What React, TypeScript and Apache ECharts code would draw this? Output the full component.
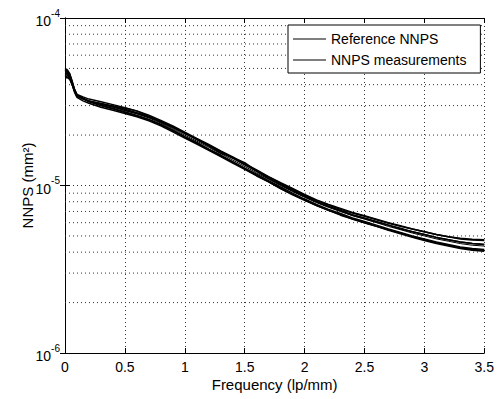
import React, { useEffect, useRef } from "react";
import * as echarts from "echarts";

// Frequency samples (lp/mm)
const freq = [0, 0.02, 0.04, 0.06, 0.08, 0.1, 0.15, 0.2, 0.3, 0.4, 0.5, 0.6, 0.7, 0.8, 0.9, 1.0, 1.1, 1.2, 1.3, 1.4, 1.5, 1.6, 1.7, 1.8, 1.9, 2.0, 2.1, 2.2, 2.3, 2.4, 2.5, 2.6, 2.7, 2.8, 2.9, 3.0, 3.1, 3.2, 3.3, 3.4, 3.5];

// NNPS values in units of 1e-6 mm^2
const refNNPS = [48, 47, 45, 41, 37, 34.5, 33, 32, 30.5, 29.3, 28.0, 26.8, 25.3, 23.6, 21.8, 20.0, 18.4, 16.9, 15.5, 14.2, 13.0, 11.9, 10.9, 10.0, 9.2, 8.5, 7.9, 7.4, 7.0, 6.6, 6.3, 6.0, 5.7, 5.45, 5.2, 5.0, 4.8, 4.65, 4.5, 4.4, 4.35];
const meas1 = [49, 48, 46, 42, 37.5, 35, 33.8, 32.8, 31.6, 30.4, 29.1, 27.9, 26.3, 24.5, 22.7, 20.8, 19.1, 17.6, 16.1, 14.8, 13.5, 12.4, 11.3, 10.4, 9.6, 8.85, 8.2, 7.7, 7.3, 6.9, 6.6, 6.3, 6.0, 5.75, 5.5, 5.3, 5.1, 4.95, 4.85, 4.78, 4.75];
const meas2 = [47, 46.5, 44.5, 40, 36, 33.6, 32, 31, 29.3, 28.1, 26.9, 25.7, 24.3, 22.7, 20.9, 19.2, 17.7, 16.2, 14.9, 13.6, 12.5, 11.4, 10.5, 9.6, 8.8, 8.15, 7.6, 7.1, 6.7, 6.3, 6.0, 5.7, 5.45, 5.2, 4.95, 4.75, 4.55, 4.4, 4.25, 4.15, 4.1];
const meas3 = [44, 44, 43, 40, 36.5, 34.5, 33, 32, 30.8, 29.6, 29.0, 27.8, 25.9, 23.9, 22.2, 20.5, 18.9, 17.4, 15.9, 14.6, 13.4, 12.2, 11.2, 10.3, 9.4, 8.7, 8.0, 7.5, 7.1, 6.7, 6.4, 6.1, 5.8, 5.5, 5.3, 5.1, 4.9, 4.75, 4.6, 4.5, 4.45];
const meas4 = [50, 49, 46.5, 41.5, 37, 34.8, 33.2, 31.8, 30.0, 28.8, 27.5, 26.2, 24.8, 23.2, 21.4, 19.6, 18.0, 16.5, 15.2, 13.9, 12.7, 11.7, 10.7, 9.8, 9.0, 8.3, 7.7, 7.2, 6.8, 6.4, 6.1, 5.8, 5.5, 5.25, 5.0, 4.8, 4.6, 4.45, 4.3, 4.2, 4.15];
const meas5 = [46, 45.5, 44, 40.5, 36.5, 34.2, 33, 31.9, 30.7, 29.6, 28.1, 26.9, 25.5, 24.1, 22.4, 20.6, 18.8, 17.2, 15.6, 14.7, 13.7, 12.2, 11.0, 10.1, 9.3, 8.6, 8.0, 7.5, 7.05, 6.65, 6.35, 6.05, 5.8, 5.55, 5.3, 5.1, 4.9, 4.75, 4.6, 4.5, 4.45];
const meas6 = [48, 47.5, 45.5, 41, 37.2, 34.6, 33.1, 31.6, 30.0, 28.7, 27.4, 26.1, 24.7, 23.0, 21.3, 19.5, 18.0, 16.4, 15.0, 13.8, 12.6, 11.5, 10.5, 9.6, 8.85, 8.2, 7.6, 7.1, 6.65, 6.3, 6.0, 5.7, 5.4, 5.15, 4.9, 4.7, 4.5, 4.35, 4.2, 4.1, 4.05];
const meas7 = [45, 44.5, 43.5, 40, 36.8, 34.3, 32.8, 31.9, 30.9, 29.8, 28.5, 27.2, 25.8, 24.1, 22.3, 20.5, 18.9, 17.3, 15.9, 14.6, 13.3, 12.2, 11.2, 10.3, 9.5, 8.75, 8.15, 7.65, 7.2, 6.85, 6.55, 6.25, 5.95, 5.7, 5.5, 5.3, 5.1, 4.95, 4.8, 4.72, 4.7];
const measurements = [meas1, meas2, meas3, meas4, meas5, meas6, meas7];

const UNIT = 1e-6;
const xTicks = [0, 0.5, 1, 1.5, 2, 2.5, 3, 3.5];
const minorGridValues = [2e-6, 3e-6, 4e-6, 5e-6, 6e-6, 7e-6, 8e-6, 9e-6, 2e-5, 3e-5, 4e-5, 5e-5, 6e-5, 7e-5, 8e-5, 9e-5];
const xRange = [0, 3.5];

const FONT = "'Liberation Sans', Arial, sans-serif";

export default function App() {
  const ref = useRef<HTMLDivElement>(null);
  useEffect(() => {
    if (!ref.current) return;
    const chart = echarts.init(ref.current, undefined, { renderer: "svg" });
    const toPairs = (arr: number[]) => arr.map((v, i) => [freq[i], v * UNIT]);
    const dotted = { color: "#333", width: 1, type: [1, 3] as any };
    const lineSeries = (name: string, arr: number[], extra: any = {}) => ({
      type: "line",
      name,
      data: toPairs(arr),
      symbol: "none",
      showSymbol: false,
      lineStyle: { color: "#000", width: 1.5 },
      itemStyle: { color: "#000" },
      silent: true,
      z: 3,
      ...extra,
    });
    const gridSeries = minorGridValues.map((v) => ({
      type: "line",
      name: "minor-grid",
      data: xRange.map((x) => [x, v]),
      symbol: "none",
      showSymbol: false,
      silent: true,
      z: 1,
      lineStyle: dotted,
      itemStyle: { color: "#333" },
    }));
    const option: any = {
      animation: false,
      backgroundColor: "#fff",
      textStyle: { fontFamily: FONT },
      grid: { left: 65, right: 9, top: 18, bottom: 46, containLabel: false },
      legend: {
        orient: "vertical",
        left: 288,
        top: 25,
        data: ["Reference NNPS", "NNPS measurements"],
        icon: "rect",
        itemWidth: 33,
        itemHeight: 1,
        itemGap: 7,
        padding: [7, 14, 6, 5],
        borderColor: "#000",
        borderWidth: 1,
        backgroundColor: "#fff",
        textStyle: { fontSize: 14, color: "#000", fontFamily: FONT },
      },
      xAxis: [
        {
          type: "value",
          min: 0,
          max: 3.5,
          interval: 0.5,
          name: "Frequency (lp/mm)",
          nameLocation: "middle",
          nameGap: 24,
          nameMoveOverlap: false,
          nameTextStyle: { fontSize: 15, color: "#000", fontFamily: FONT },
          axisLine: { show: true, lineStyle: { color: "#000", width: 1 } },
          axisTick: { show: true, inside: true, length: 5, lineStyle: { color: "#000" } },
          axisLabel: {
            fontSize: 14,
            color: "#000",
            margin: 7,
            fontFamily: FONT,
            hideOverlap: false,
            formatter: (v: number) => (xTicks.includes(v) ? String(v) : ""),
          },
          splitLine: { show: true, lineStyle: dotted },
        },
        {
          type: "value",
          position: "top",
          min: 0,
          max: 3.5,
          interval: 0.5,
          axisLine: { show: true, lineStyle: { color: "#000", width: 1 } },
          axisTick: { show: true, inside: true, length: 5, lineStyle: { color: "#000" } },
          axisLabel: { show: false },
          splitLine: { show: false },
        },
      ],
      yAxis: [
        {
          type: "log",
          logBase: 10,
          min: 1e-6,
          max: 1e-4,
          splitNumber: 2,
          name: "NNPS (mm²)",
          nameLocation: "middle",
          nameGap: 30,
          nameMoveOverlap: false,
          nameTextStyle: { fontSize: 15, color: "#000", fontFamily: FONT },
          axisLine: { show: true, lineStyle: { color: "#000", width: 1 } },
          axisTick: { show: true, inside: true, length: 5, lineStyle: { color: "#000" } },
          axisLabel: {
            margin: 5,
            color: "#000",
            formatter: (v: number) => `{b|10}{s|${Math.round(Math.log10(v))}}`,
            rich: {
              b: { fontSize: 14, color: "#000", fontFamily: FONT, verticalAlign: "bottom", lineHeight: 20 },
              s: { fontSize: 10, color: "#000", fontFamily: FONT, verticalAlign: "top", lineHeight: 20 },
            },
          },
          splitLine: { show: true, lineStyle: dotted },
        },
        {
          type: "log",
          logBase: 10,
          min: 1e-6,
          max: 1e-4,
          splitNumber: 2,
          position: "right",
          axisLine: { show: true, lineStyle: { color: "#000", width: 1 } },
          axisTick: { show: true, inside: true, length: 5, lineStyle: { color: "#000" } },
          axisLabel: { show: false },
          splitLine: { show: false },
        },
      ],
      series: [
        ...gridSeries,
        ...measurements.map((m) => lineSeries("NNPS measurements", m)),
        lineSeries("Reference NNPS", refNNPS, { lineStyle: { color: "#000", width: 1 } }),
      ],
    };
    chart.setOption(option);
    return () => chart.dispose();
  }, []);
  return <div ref={ref} style={{ position: "absolute", left: 0, top: 0, width: 497, height: 399 }} />;
}
